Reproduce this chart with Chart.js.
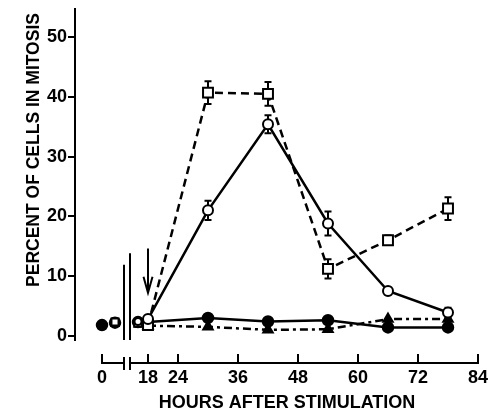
<!DOCTYPE html>
<html>
<head>
<meta charset="utf-8">
<script src="https://cdn.jsdelivr.net/npm/chart.js@4.4.1/dist/chart.umd.min.js"></script>
<style>
html, body { margin: 0; padding: 0; background: #fff; }
#wrap { position: relative; width: 493px; height: 415px; }
</style>
</head>
<body>
<div id="wrap"><canvas id="mitosis"></canvas></div>
<script>
// hours after stimulation (0 and 2 sit before the axis break)
const HOURS = [0, 2, 16, 18, 30, 42, 54, 66, 78];

// percent of cells in mitosis
const FILLED_CIRCLE = [1.8, 2.2, 2.3, 2.3, 3.0, 2.4, 2.6, 1.4, 1.4];
const TRIANGLE      = [null, 2.0, 1.9, 1.7, 1.5, 1.0, 1.1, 2.8, 2.8];
const OPEN_CIRCLE   = [null, null, 2.4, 2.8, 21.0, 35.4, 18.8, 7.5, 3.9];
const OPEN_SQUARE   = [null, 2.3, 2.1, 1.8, 40.7, 40.5, 11.2, 16.0, 21.3];

// error bars (+/-)
const CIRCLE_ERR = [null, null, 0.5, 0.6, 1.6, 1.5, 2.0, 0.6, 0.8];
const SQUARE_ERR = [null, 0.6, 0.5, 0.6, 1.9, 2.0, 1.6, 0.8, 1.9];

const X_TICKS = [0, 18, 24, 36, 48, 60, 72, 84];
const Y_TICKS = [0, 10, 20, 30, 40, 50];

// axis break: hours below BREAK_AT are squeezed next to the "0" tick
const BREAK_AT = 10;
const ZERO_AT = 8.8;
const PRE_SCALE = 1.3;
const BREAK_MARKS = [13.2, 14.4];
const BREAK_TOPS = [11.9, 13.8];
const ARROW = { hour: 18, from: 14.6, to: 7.2 };

const FONT = "'Liberation Sans', Arial, sans-serif";

function toAxis(h) {
    return h < BREAK_AT ? ZERO_AT + h * PRE_SCALE : h;
}

function points(values, errors) {
    const out = [];
    HOURS.forEach(function(h, i) {
        if (values[i] == null) return;
        out.push({ x: toAxis(h), y: values[i], e: errors ? errors[i] : null });
    });
    return out;
}

// hide the joins before 18 h
const hideEarly = {
    borderColor: function(ctx) { return ctx.p0.parsed.x < 18 ? 'rgba(0,0,0,0)' : undefined; }
};

// smaller marks before the break
function earlyRadius(big, small) {
    return function(ctx) {
        const p = ctx.raw;
        return p && p.x < 17 ? small : big;
    };
}

const errorBars = {
    id: 'errorBars',
    beforeDatasetsDraw(chart) {
        const ctx = chart.ctx, x = chart.scales.x, y = chart.scales.y;
        ctx.save();
        ctx.strokeStyle = '#000';
        ctx.lineWidth = 2;
        chart.data.datasets.forEach(function(ds) {
            ds.data.forEach(function(p) {
                if (!p.e) return;
                const px = x.getPixelForValue(p.x);
                const top = y.getPixelForValue(p.y + p.e);
                const bot = y.getPixelForValue(p.y - p.e);
                ctx.beginPath();
                ctx.moveTo(px, top); ctx.lineTo(px, bot);
                ctx.moveTo(px - 3.5, top); ctx.lineTo(px + 3.5, top);
                ctx.moveTo(px - 3.5, bot); ctx.lineTo(px + 3.5, bot);
                ctx.stroke();
            });
        });
        ctx.restore();
    }
};

const brokenAxis = {
    id: 'brokenAxis',
    afterDraw(chart) {
        const ctx = chart.ctx, area = chart.chartArea;
        const x = chart.scales.x, y = chart.scales.y;
        const ay = area.bottom + 23;
        const p0 = x.getPixelForValue(toAxis(0));
        const b1 = x.getPixelForValue(BREAK_MARKS[0]);
        const b2 = x.getPixelForValue(BREAK_MARKS[1]);
        const pEnd = x.getPixelForValue(x.max);
        ctx.save();
        ctx.strokeStyle = '#000';
        ctx.lineWidth = 2;
        ctx.lineCap = 'butt';
        ctx.beginPath();
        ctx.moveTo(p0, ay); ctx.lineTo(b1, ay);
        ctx.moveTo(b2, ay); ctx.lineTo(pEnd, ay);
        x.ticks.forEach(function(t) {
            const px = x.getPixelForValue(t.value);
            ctx.moveTo(px, ay + 1); ctx.lineTo(px, ay - 9);
        });
        [b1, b2].forEach(function(px) {
            ctx.moveTo(px, ay - 6); ctx.lineTo(px, ay + 7);
        });
        // break lines inside the plot
        BREAK_MARKS.forEach(function(m, i) {
            const px = x.getPixelForValue(m);
            ctx.moveTo(px, y.getPixelForValue(BREAK_TOPS[i]));
            ctx.lineTo(px, area.bottom);
        });
        // arrow at 18 h
        const ax = x.getPixelForValue(ARROW.hour);
        const aTop = y.getPixelForValue(ARROW.from);
        const aTip = y.getPixelForValue(ARROW.to);
        ctx.moveTo(ax, aTop); ctx.lineTo(ax, aTip);
        ctx.moveTo(ax - 4.5, aTip - 16); ctx.lineTo(ax, aTip); ctx.lineTo(ax + 4.5, aTip - 16);
        ctx.stroke();

        // axis titles
        ctx.fillStyle = '#000';
        ctx.font = 'bold 18px ' + FONT;
        ctx.textAlign = 'center';
        ctx.textBaseline = 'alphabetic';
        ctx.fillText('HOURS AFTER STIMULATION', 287, 408);
        ctx.translate(39, 150);
        ctx.rotate(-Math.PI / 2);
        ctx.font = 'bold 17.5px ' + FONT;
        ctx.fillText('PERCENT OF CELLS IN MITOSIS', 0, 0);
        ctx.restore();
    }
};

new Chart(document.getElementById('mitosis'), {
    type: 'scatter',
    data: {
        datasets: [
            {
                label: 'open circle',
                data: points(OPEN_CIRCLE, CIRCLE_ERR),
                showLine: true,
                borderColor: '#000',
                borderWidth: 2.5,
                pointStyle: 'circle',
                pointRadius: earlyRadius(5, 3.5),
                pointBorderWidth: 2,
                pointBackgroundColor: '#fff',
                pointBorderColor: '#000',
                segment: hideEarly
            },
            {
                label: 'open square',
                data: points(OPEN_SQUARE, SQUARE_ERR),
                showLine: true,
                borderColor: '#000',
                borderWidth: 2.5,
                borderDash: [8, 5],
                pointStyle: 'rect',
                pointRadius: earlyRadius(7, 5),
                pointBorderWidth: 2,
                pointBackgroundColor: '#fff',
                pointBorderColor: '#000',
                segment: hideEarly
            },
            {
                label: 'filled circle',
                data: points(FILLED_CIRCLE),
                showLine: true,
                borderColor: '#000',
                borderWidth: 2.5,
                pointStyle: 'circle',
                pointRadius: 5,
                pointBackgroundColor: '#000',
                pointBorderColor: '#000',
                segment: hideEarly
            },
            {
                label: 'triangle',
                data: points(TRIANGLE),
                showLine: true,
                borderColor: '#000',
                borderWidth: 2.5,
                borderDash: [8, 4, 3, 4],
                pointStyle: 'triangle',
                pointRadius: earlyRadius(5, 3.5),
                pointBackgroundColor: '#000',
                pointBorderColor: '#000',
                segment: hideEarly
            }
        ]
    },
    options: {
        responsive: true,
        maintainAspectRatio: false,
        animation: false,
        layout: { padding: { top: 6, right: 15, left: 0, bottom: 0 } },
        plugins: { legend: { display: false }, tooltip: { enabled: false } },
        scales: {
            x: {
                type: 'linear',
                min: 3.4,
                max: 84,
                afterBuildTicks: function(scale) {
                    scale.ticks = X_TICKS.map(function(h) { return { value: toAxis(h) }; });
                },
                afterFit: function(scale) {
                    scale.height = 75;
                    scale.paddingLeft = 0;
                    scale.paddingRight = 0;
                },
                grid: { display: false, drawTicks: false, tickLength: 0 },
                border: { display: false },
                ticks: {
                    autoSkip: false,
                    maxRotation: 0,
                    padding: 27,
                    color: '#000',
                    font: { family: FONT, size: 18, weight: 'bold' },
                    callback: function(value, index) { return X_TICKS[index]; }
                }
            },
            y: {
                min: -0.7,
                max: 54.7,
                afterBuildTicks: function(scale) {
                    scale.ticks = Y_TICKS.map(function(v) { return { value: v }; });
                },
                afterFit: function(scale) {
                    scale.width = 75;
                    scale.paddingTop = 0;
                    scale.paddingBottom = 0;
                },
                grid: { drawOnChartArea: false, drawTicks: true, tickLength: 7, color: '#000', lineWidth: 2 },
                border: { display: true, color: '#000', width: 2 },
                ticks: {
                    padding: 1,
                    color: '#000',
                    font: { family: FONT, size: 18, weight: 'bold' }
                }
            }
        }
    },
    plugins: [errorBars, brokenAxis]
});
</script>
</body>
</html>
